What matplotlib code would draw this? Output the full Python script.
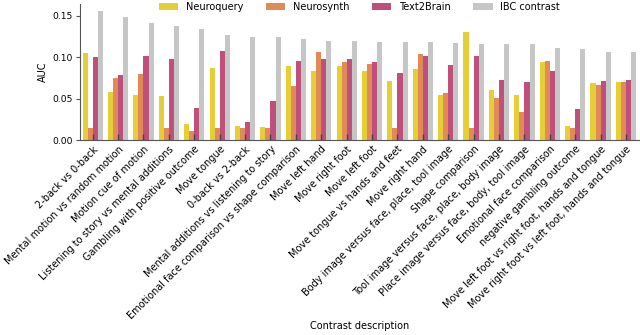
import matplotlib
matplotlib.use('Agg')
import matplotlib.pyplot as plt, numpy as np

# Contrasts and AUC per method
contrasts = [
    '2-back vs 0-back',
    'Mental motion vs random motion',
    'Motion cue of motion',
    'Listening to story vs mental additions',
    'Gambling with positive outcome',
    'Move tongue',
    '0-back vs 2-back',
    'Mental additions vs listening to story',
    'Emotional face comparison vs shape comparison',
    'Move left hand',
    'Move right foot',
    'Move left foot',
    'Move tongue vs hands and feet',
    'Move right hand',
    'Body image versus face, place, tool image',
    'Shape comparison',
    'Tool image versus face, place, body image',
    'Place image versus face, body, tool image',
    'Emotional face comparison',
    'negative gambling outcome',
    'Move left foot vs right foot, hands and tongue',
    'Move right foot vs left foot, hands and tongue',
]
neuroquery = [0.105, 0.058, 0.054, 0.053, 0.019, 0.087, 0.017, 0.016, 0.089, 0.083, 0.090,
              0.083, 0.071, 0.086, 0.055, 0.131, 0.060, 0.054, 0.094, 0.017, 0.069, 0.070]
neurosynth = [0.015, 0.075, 0.080, 0.015, 0.011, 0.015, 0.015, 0.015, 0.065, 0.106, 0.094,
              0.092, 0.015, 0.104, 0.057, 0.015, 0.051, 0.034, 0.095, 0.014, 0.067, 0.070]
text2brain = [0.100, 0.079, 0.102, 0.098, 0.039, 0.108, 0.022, 0.047, 0.096, 0.098, 0.098,
              0.094, 0.081, 0.101, 0.091, 0.101, 0.072, 0.070, 0.083, 0.037, 0.071, 0.072]
ibc = [0.156, 0.149, 0.141, 0.138, 0.134, 0.127, 0.124, 0.124, 0.122, 0.120, 0.120,
       0.119, 0.119, 0.118, 0.117, 0.116, 0.116, 0.116, 0.111, 0.110, 0.106, 0.106]

series = [('Neuroquery', neuroquery, '#e5ce38'),
          ('Neurosynth', neurosynth, '#e08a58'),
          ('Text2Brain', text2brain, '#bf4f7b'),
          ('IBC contrast', ibc, '#c6c6c6')]

plt.rcParams['font.size'] = 7
fig = plt.figure(figsize=(6.4, 3.35), dpi=100)
ax = fig.add_axes([0.125, 0.582, 0.873, 0.405])

x = np.arange(len(contrasts))
w = 0.2
for i, (name, vals, col) in enumerate(series):
    ax.bar(x + (i - 1.5) * w, vals, width=w, color=col, label=name)

ax.set_xlim(-0.5, len(contrasts) - 0.5)
ax.set_ylim(0, 0.164)
ax.set_yticks([0, 0.05, 0.10, 0.15])
ax.set_xticks(x)
ax.set_xticklabels(contrasts, rotation=45, ha='right', rotation_mode='anchor')
ax.tick_params(axis='x', direction='in', length=4, width=1, color='#444444', pad=3, labelsize=7)
ax.tick_params(axis='y', direction='out', length=3, color='#555555', pad=2, labelsize=6.6)
for s in ['top', 'right']:
    ax.spines[s].set_visible(False)
for s in ['left', 'bottom']:
    ax.spines[s].set_color('#555555')
ax.set_ylabel('AUC', labelpad=3)
ax.set_xlabel('Contrast description', labelpad=0)
ax.legend(ncol=4, loc='upper center', bbox_to_anchor=(0.5, 1.085), frameon=False,
          columnspacing=2.3)

plt.savefig('out.png', dpi=100)
